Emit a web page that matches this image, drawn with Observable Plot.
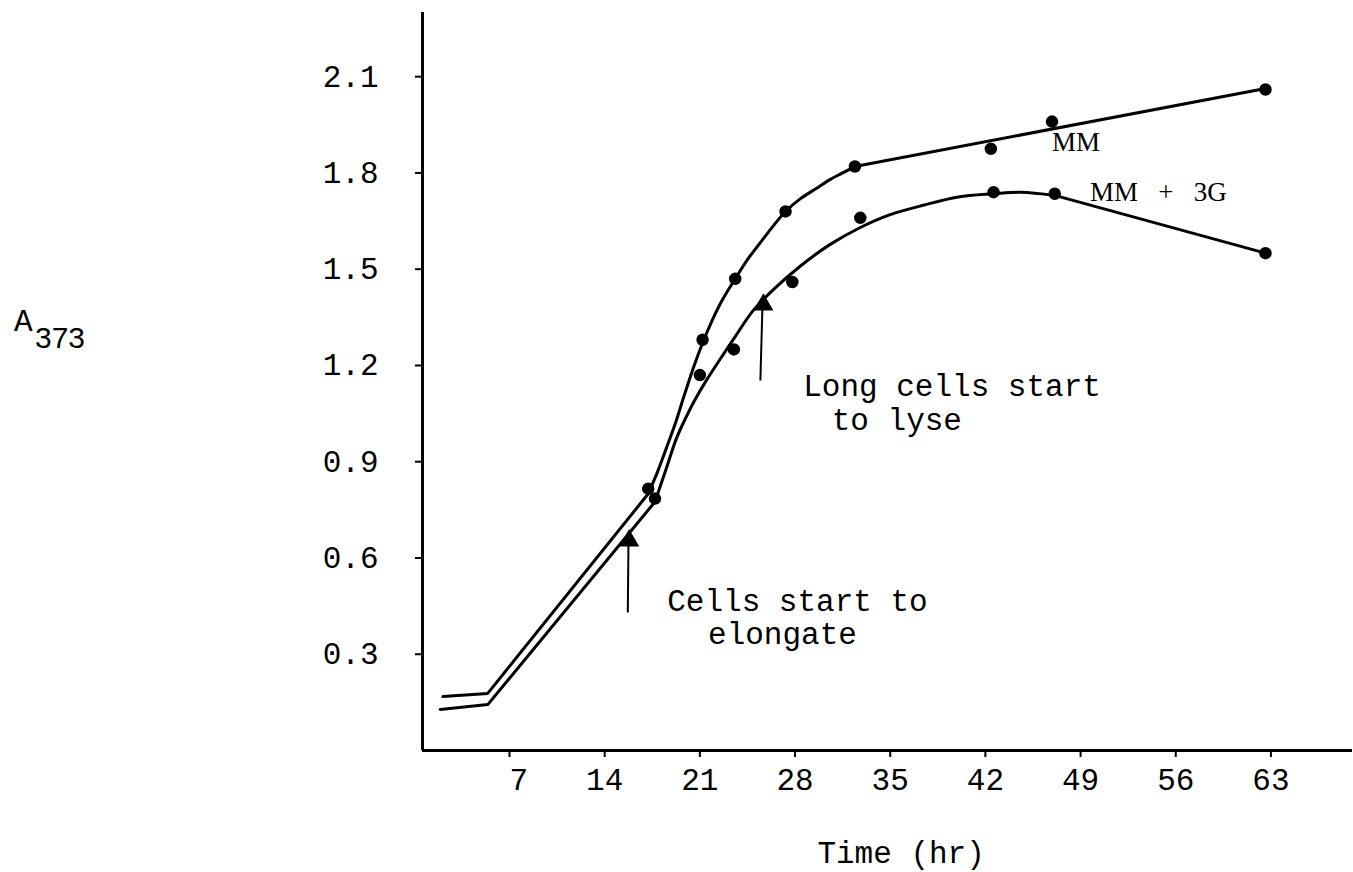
<!DOCTYPE html>
<html>
<head>
<meta charset="utf-8">
<script src="https://cdn.jsdelivr.net/npm/d3@7"></script>
<script src="https://cdn.jsdelivr.net/npm/@observablehq/plot@0.6"></script>
<style>
  html, body { margin: 0; padding: 0; background: #fff; }
  #chart { width: 1353px; height: 872px; }
</style>
</head>
<body>
<div id="chart"></div>
<script>
// ---- tick labels ----
const xTicks = [7, 14, 21, 28, 35, 42, 49, 56, 63];
const yTicks = [0.3, 0.6, 0.9, 1.2, 1.5, 1.8, 2.1];

// ---- measured points: MM ----
const mmTime  = [17.2, 21.2, 23.6, 27.3, 32.4, 42.4, 46.9, 62.6];
const mmValue = [0.816, 1.28, 1.47, 1.68, 1.82, 1.875, 1.96, 2.06];

// ---- measured points: MM + 3G ----
const gTime  = [17.7, 21.0, 23.5, 27.8, 32.8, 42.6, 47.1, 62.6];
const gValue = [0.785, 1.17, 1.25, 1.46, 1.66, 1.74, 1.735, 1.55];

// ---- hand-drawn fitted curves (vertices) ----
const mmFitTime  = [2.1, 5.4, 17.2, 17.9, 18.6, 19.2, 19.8, 20.5, 21.2, 21.9, 22.6, 23.6, 24.5, 25.4, 26.4, 27.3, 28.4, 29.5, 30.6, 31.5, 32.4, 62.8];
const mmFitValue = [0.168, 0.178, 0.80, 0.87, 0.95, 1.02, 1.10, 1.19, 1.27, 1.34, 1.40, 1.47, 1.53, 1.58, 1.635, 1.68, 1.72, 1.75, 1.78, 1.80, 1.82, 2.065];

const gFitTime  = [1.9, 5.4, 17.7, 18.5, 19.3, 20.0, 20.6, 21.5, 22.5, 23.6, 24.9, 26.5, 28.4, 30.5, 32.8, 35.0, 37.5, 40.0, 42.6, 44.6, 47.1, 62.6];
const gFitValue = [0.128, 0.143, 0.775, 0.875, 0.975, 1.04, 1.09, 1.155, 1.22, 1.29, 1.37, 1.44, 1.51, 1.575, 1.63, 1.67, 1.70, 1.725, 1.735, 1.74, 1.73, 1.55];

// ---- annotation arrows (time, value from -> to) ----
const arrowTime1  = [15.7, 25.45];
const arrowValue1 = [0.43, 1.153];
const arrowTime2  = [15.75, 25.6];
const arrowValue2 = [0.655, 1.38];
const arrowTipTime  = [15.8, 25.67];
const arrowTipValue = [0.654, 1.389];

// ---- annotation texts ----
const noteText  = ["Long cells start", "to lyse", "Cells start to", "elongate"];
const noteTime  = [28.6, 30.7, 18.6, 21.6];
const noteValue = [1.137, 1.03, 0.467, 0.362];

const seriesText  = ["MM", "MM\u00A0\u00A0\u00A0+\u00A0\u00A0\u00A03G"];
const seriesTime  = [46.9, 49.7];
const seriesValue = [1.894, 1.738];

const xTitle = ["Time (hr)"];

// ---- build tables ----
const zip = (xs, ys) => xs.map((x, i) => ({x, y: ys[i]}));
const mmPts = zip(mmTime, mmValue);
const gPts = zip(gTime, gValue);
const mmFit = zip(mmFitTime, mmFitValue);
const gFit = zip(gFitTime, gFitValue);
const arrows = arrowTime1.map((t, i) => ({x1: t, y1: arrowValue1[i], x2: arrowTime2[i], y2: arrowValue2[i]}));
const tips = zip(arrowTipTime, arrowTipValue);
const notes = noteText.map((s, i) => ({text: s, x: noteTime[i], y: noteValue[i]}));
const seriesLabels = seriesText.map((s, i) => ({text: s, x: seriesTime[i], y: seriesValue[i]}));

const n1 = mmFit.length, n2 = gFit.length;
const lineOpts = {x: "x", y: "y", stroke: "#000", strokeWidth: 3, strokeLinejoin: "round", strokeLinecap: "round"};

const MONO = "'Liberation Mono', 'DejaVu Sans Mono', monospace";
const SERIF = "'Liberation Serif', 'DejaVu Serif', serif";

const plot = Plot.plot({
  width: 1353,
  height: 872,
  marginTop: 12,
  marginRight: 1,
  marginBottom: 122,
  marginLeft: 422,
  x: {domain: [0.6, 69], axis: null},
  y: {domain: [0, 2.3], axis: null},
  style: {fontFamily: MONO, fontSize: "31px", color: "#000", background: "#fff"},
  marks: [
    // axes lines
    Plot.ruleY([0], {x1: 0.6, x2: 69, stroke: "#000", strokeWidth: 3}),
    Plot.ruleX([0.6], {y1: 0, y2: 2.3, stroke: "#000", strokeWidth: 3}),
    Plot.axisX(xTicks, {anchor: "bottom", tickSize: 7, tickPadding: 10, strokeWidth: 2,
      tickFormat: d => (d < 10 ? "\u00A0" + d : String(d)), fontFamily: MONO, fontSize: 31}),
    Plot.axisY(yTicks, {anchor: "left", tickSize: 7, tickPadding: 37, strokeWidth: 2,
      tickFormat: d => d.toFixed(1), fontFamily: MONO, fontSize: 31}),
    // fitted curves: straight start, smooth middle, straight end
    Plot.line(mmFit.slice(0, 3), {...lineOpts, curve: "linear"}),
    Plot.line(mmFit.slice(2, n1 - 1), {...lineOpts, curve: "catmull-rom"}),
    Plot.line(mmFit.slice(n1 - 2), {...lineOpts, curve: "linear"}),
    Plot.line(gFit.slice(0, 3), {...lineOpts, curve: "linear"}),
    Plot.line(gFit.slice(2, n2 - 1), {...lineOpts, curve: "catmull-rom"}),
    Plot.line(gFit.slice(n2 - 2), {...lineOpts, curve: "linear"}),
    // points
    Plot.dot(mmPts, {x: "x", y: "y", r: 5.5, fill: "#000", stroke: "#000"}),
    Plot.dot(gPts, {x: "x", y: "y", r: 5.5, fill: "#000", stroke: "#000"}),
    // arrows
    Plot.link(arrows, {x1: "x1", y1: "y1", x2: "x2", y2: "y2", stroke: "#000", strokeWidth: 2}),
    Plot.dot(tips, {x: "x", y: "y", symbol: "triangle", r: 6.5, fill: "#000", stroke: "#000"}),
    // annotations
    Plot.text(notes, {x: "x", y: "y", text: "text", textAnchor: "start", fontFamily: MONO, fontSize: 31, fill: "#000"}),
    Plot.text(seriesLabels, {x: "x", y: "y", text: "text", textAnchor: "start", fontFamily: SERIF, fontSize: 27, fill: "#000"}),
    Plot.text(xTitle, {x: 35.8, y: -0.32, text: d => d, fontFamily: MONO, fontSize: 31, fill: "#000"})
  ]
});

document.getElementById("chart").appendChild(plot);

// Y-axis label "A" with subscript "373"
const svg = d3.select(plot);
const ylab = svg.append("text")
  .attr("x", 14).attr("y", 331)
  .attr("text-anchor", "start")
  .attr("font-family", MONO).attr("font-size", 31).attr("fill", "#000")
  .text("A");
ylab.append("tspan")
  .attr("x", 35).attr("y", 348)
  .attr("font-family", "'Liberation Sans', Arial, sans-serif").attr("font-size", 30)
  .text("373");
</script>
</body>
</html>
